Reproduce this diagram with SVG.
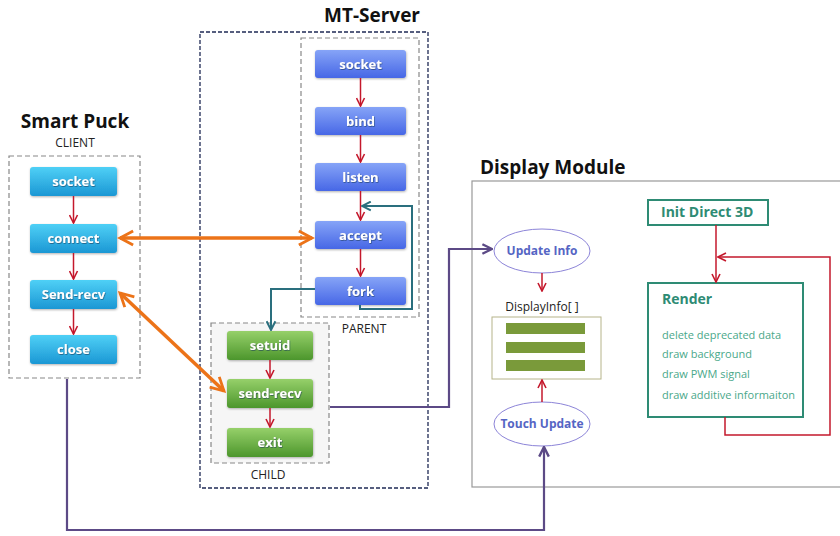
<svg xmlns="http://www.w3.org/2000/svg" width="840" height="536" viewBox="0 0 840 536">
  <defs>
    <linearGradient id="gCyan" x1="0" y1="0" x2="0" y2="1">
      <stop offset="0" stop-color="#4fd0f6"/>
      <stop offset="1" stop-color="#1b97d4"/>
    </linearGradient>
    <linearGradient id="gBlue" x1="0" y1="0" x2="0" y2="1">
      <stop offset="0" stop-color="#86a4f7"/>
      <stop offset="1" stop-color="#4767e6"/>
    </linearGradient>
    <linearGradient id="gGreen" x1="0" y1="0" x2="0" y2="1">
      <stop offset="0" stop-color="#96d06a"/>
      <stop offset="1" stop-color="#4c962c"/>
    </linearGradient>
    <filter id="txtShadow" x="-10%" y="-30%" width="120%" height="160%">
      <feDropShadow dx="0.6" dy="0.8" stdDeviation="0.6" flood-color="#1a3a5a" flood-opacity="0.7"/>
    </filter>
    <filter id="boxShadow" x="-10%" y="-20%" width="120%" height="150%">
      <feDropShadow dx="0.5" dy="1" stdDeviation="0.8" flood-color="#000" flood-opacity="0.3"/>
    </filter>
    <marker id="aRed" viewBox="0 0 10 10" refX="9" refY="5" markerWidth="10" markerHeight="10" markerUnits="userSpaceOnUse" orient="auto">
      <path d="M1,1 L9,5 L1,9" fill="none" stroke="#c4182c" stroke-width="1.6"/>
    </marker>
    <marker id="aOrange" viewBox="0 0 10 10" refX="8.5" refY="5" markerWidth="5" markerHeight="5" orient="auto-start-reverse">
      <path d="M1,1 L8.5,5 L1,9" fill="none" stroke="#ec7318" stroke-width="1.6"/>
    </marker>
    <marker id="aPurple" viewBox="0 0 10 10" refX="9" refY="5" markerWidth="12" markerHeight="12" markerUnits="userSpaceOnUse" orient="auto">
      <path d="M1,1 L9,5 L1,9" fill="none" stroke="#5c4a86" stroke-width="2"/>
    </marker>
    <marker id="aTeal" viewBox="0 0 10 10" refX="9" refY="5" markerWidth="11" markerHeight="11" markerUnits="userSpaceOnUse" orient="auto">
      <path d="M1,1 L9,5 L1,9" fill="none" stroke="#2a6f7e" stroke-width="1.8"/>
    </marker>
  </defs>
  <style>
    .title { font-family: "Open Sans", "Noto Sans", sans-serif; font-weight: bold; font-size: 19px; fill: #111; }
    .cap { font-family: "Open Sans", "Noto Sans", sans-serif; font-size: 12px; fill: #222; }
    .node { stroke: none; filter: url(#boxShadow); }
    .lbl { font-family: "Open Sans", "Noto Sans", sans-serif; font-weight: bold; font-size: 13px; fill: #fff; text-anchor: middle; filter: url(#txtShadow); }
    .grp { fill: none; stroke: #888; stroke-width: 1.2; stroke-dasharray: 5 3; }
    .red { fill: none; stroke: #c4182c; stroke-width: 1.5; marker-end: url(#aRed); }
    .orange { fill: none; stroke: #ec7318; stroke-width: 3.5; marker-start: url(#aOrange); marker-end: url(#aOrange); }
    .purple { fill: none; stroke: #5c4a86; stroke-width: 2.2; marker-end: url(#aPurple); }
    .teal { fill: none; stroke: #2a6f7e; stroke-width: 2; marker-end: url(#aTeal); }
    .ell { fill: #fff; stroke: #8c84d8; stroke-width: 1; }
    .ellTxt { font-family: "Open Sans", "Noto Sans", sans-serif; font-weight: bold; font-size: 12px; fill: #5565c4; text-anchor: middle; }
    .tealBox { fill: #fff; stroke: #2e8b74; stroke-width: 2; }
    .tealHead { font-family: "Open Sans", "Noto Sans", sans-serif; font-weight: bold; font-size: 14px; fill: #2e8b74; }
    .tealItem { font-family: "Open Sans", "Noto Sans", sans-serif; font-size: 11px; fill: #4aa88a; }
  </style>

  <rect width="840" height="536" fill="#fff"/>

  <!-- Client side -->
  <g id="client">
    <text class="title" x="75" y="128" text-anchor="middle">Smart Puck</text>
    <text class="cap" x="75" y="147" text-anchor="middle">CLIENT</text>
    <rect class="grp" x="9" y="156" width="131" height="222"/>
  </g>
  <g id="c-socket"><rect class="node" x="30" y="167" width="87" height="29" rx="3" fill="url(#gCyan)"/><text class="lbl" x="73.5" y="186">socket</text></g>
  <g id="c-connect"><rect class="node" x="30" y="224" width="87" height="29" rx="3" fill="url(#gCyan)"/><text class="lbl" x="73.5" y="243">connect</text></g>
  <g id="c-sendrecv"><rect class="node" x="30" y="280" width="87" height="29" rx="3" fill="url(#gCyan)"/><text class="lbl" x="73.5" y="299">Send-recv</text></g>
  <g id="c-close"><rect class="node" x="30" y="335" width="87" height="29" rx="3" fill="url(#gCyan)"/><text class="lbl" x="73.5" y="354">close</text></g>

  <!-- Server side -->
  <g id="server">
    <text class="title" x="372" y="22" text-anchor="middle">MT-Server</text>
    <rect x="200" y="32" width="228" height="456" fill="none" stroke="#1f2a55" stroke-width="1.3" stroke-dasharray="4 2"/>
  </g>
  <g id="parent">
    <rect class="grp" x="301" y="38" width="118" height="279"/>
    <text class="cap" x="364" y="333" text-anchor="middle">PARENT</text>
  </g>
  <g id="s-socket"><rect class="node" x="315" y="50" width="91" height="28" rx="3" fill="url(#gBlue)"/><text class="lbl" x="360.5" y="69">socket</text></g>
  <g id="s-bind"><rect class="node" x="315" y="107" width="91" height="28" rx="3" fill="url(#gBlue)"/><text class="lbl" x="360.5" y="126">bind</text></g>
  <g id="s-listen"><rect class="node" x="315" y="163" width="91" height="28" rx="3" fill="url(#gBlue)"/><text class="lbl" x="360.5" y="182">listen</text></g>
  <g id="s-accept"><rect class="node" x="315" y="221" width="91" height="28" rx="3" fill="url(#gBlue)"/><text class="lbl" x="360.5" y="240">accept</text></g>
  <g id="s-fork"><rect class="node" x="315" y="277" width="91" height="28" rx="3" fill="url(#gBlue)"/><text class="lbl" x="360.5" y="296">fork</text></g>

  <g id="child">
    <rect x="211" y="323" width="118" height="140" fill="#f6f6f6" stroke="#888" stroke-width="1.2" stroke-dasharray="5 3"/>
    <text class="cap" x="268" y="479" text-anchor="middle">CHILD</text>
  </g>
  <g id="ch-setuid"><rect class="node" x="227" y="331" width="86" height="29" rx="3" fill="url(#gGreen)"/><text class="lbl" x="270" y="350">setuid</text></g>
  <g id="ch-sendrecv"><rect class="node" x="227" y="379" width="86" height="29" rx="3" fill="url(#gGreen)"/><text class="lbl" x="270" y="398">send-recv</text></g>
  <g id="ch-exit"><rect class="node" x="227" y="428" width="86" height="29" rx="3" fill="url(#gGreen)"/><text class="lbl" x="270" y="447">exit</text></g>

  <!-- Display module -->
  <g id="display">
    <text class="title" x="480" y="174">Display Module</text>
    <rect x="472" y="181" width="380" height="306" fill="#fff" stroke="#999" stroke-width="1.2"/>
  </g>
  <g id="update-info">
    <ellipse class="ell" cx="542" cy="251" rx="48" ry="22"/>
    <text class="ellTxt" x="542" y="255">Update Info</text>
  </g>
  <g id="display-info">
    <text class="cap" x="542" y="311" text-anchor="middle" font-size="11">DisplayInfo[ ]</text>
    <rect x="492" y="317" width="109" height="62" fill="#fff" stroke="#b6b48a" stroke-width="1"/>
    <rect x="506" y="323" width="79" height="11" fill="#7a9a3a"/>
    <rect x="506" y="342" width="79" height="11" fill="#7a9a3a"/>
    <rect x="506" y="360" width="79" height="11" fill="#7a9a3a"/>
  </g>
  <g id="touch-update">
    <ellipse class="ell" cx="542" cy="424" rx="48" ry="22"/>
    <text class="ellTxt" x="542" y="428">Touch Update</text>
  </g>
  <g id="init-d3d">
    <rect class="tealBox" x="648" y="200" width="120" height="25"/>
    <text class="tealHead" x="661" y="217">Init Direct 3D</text>
  </g>
  <g id="render">
    <rect class="tealBox" x="648" y="283" width="155" height="134"/>
    <text class="tealHead" x="662" y="304">Render</text>
    <text class="tealItem" x="662" y="339">delete deprecated data</text>
    <text class="tealItem" x="662" y="358">draw background</text>
    <text class="tealItem" x="662" y="378">draw PWM signal</text>
    <text class="tealItem" x="662" y="399">draw additive informaiton</text>
  </g>

  <!-- Connectors -->
  <g id="connectors">
    <!-- client flow -->
    <path class="red" d="M73.5,196 V223"/>
    <path class="red" d="M73.5,253 V279"/>
    <path class="red" d="M73.5,309 V334"/>
    <!-- server parent flow -->
    <path class="red" d="M360.5,78 V106"/>
    <path class="red" d="M360.5,135 V162"/>
    <path class="red" d="M360.5,191 V220"/>
    <path class="red" d="M360.5,249 V276"/>
    <!-- child flow -->
    <path class="red" d="M270,360 V378"/>
    <path class="red" d="M270,408 V427"/>
    <!-- fork loops back to accept, and spawns child -->
    <path class="teal" d="M360,305 V309 H412 V206 H362"/>
    <path class="teal" d="M315,289 H271 V330"/>
    <!-- network exchange -->
    <path class="orange" d="M120,238 H312"/>
    <path class="orange" d="M120,293 L224,391"/>
    <!-- data feeds to display -->
    <path class="purple" d="M330,407 H449 V249 H492"/>
    <path class="purple" d="M67,379 V530 H544 V447"/>
    <!-- display internals -->
    <path class="red" d="M542,273 V291"/>
    <path class="red" d="M542,402 V380"/>
    <path class="red" d="M716,225 V282" stroke-width="2"/>
    <path class="red" d="M725,417 V435 H830 V257 H718" stroke-width="1.8"/>
  </g>
</svg>
